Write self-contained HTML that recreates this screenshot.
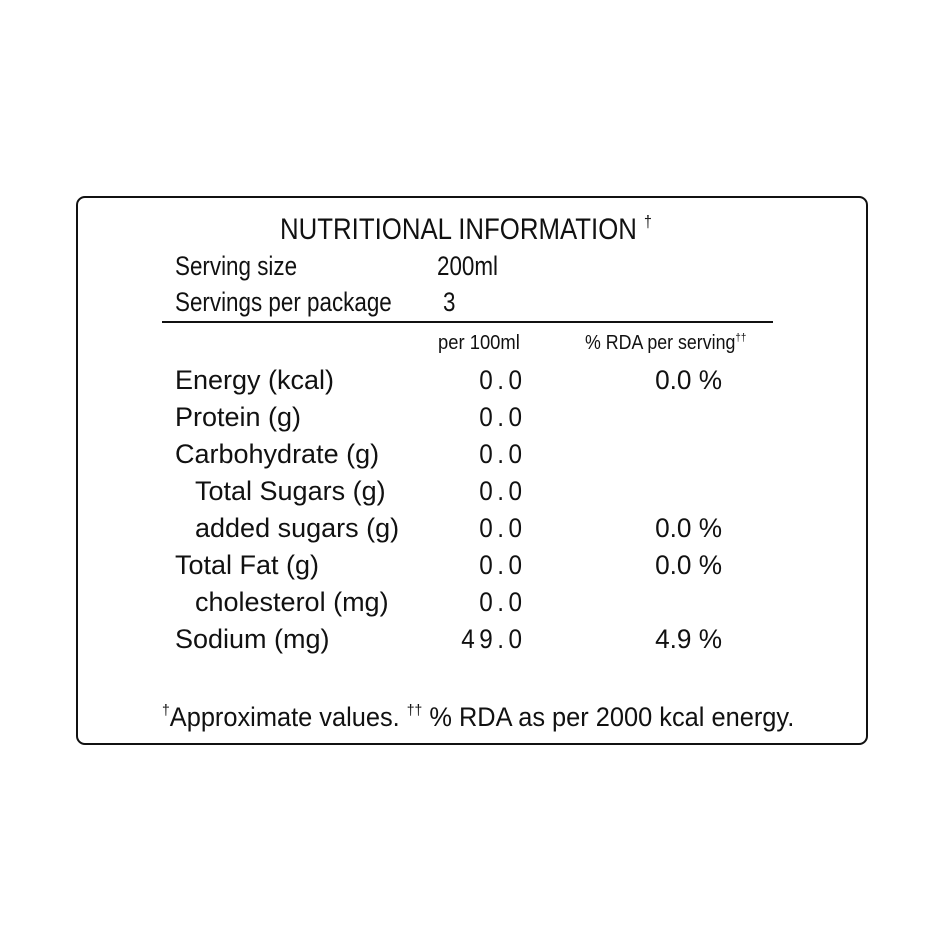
<!DOCTYPE html>
<html><head><meta charset="utf-8"><style>
body{margin:0;background:#fff;}
#c{position:relative;width:940px;height:940px;background:#fff;font-family:"Liberation Sans",sans-serif;color:#111;overflow:hidden}
.t{position:absolute;white-space:nowrap;line-height:1;transform-origin:left top}
.r{transform-origin:right top;text-align:right}
.box{position:absolute;left:76px;top:196px;width:788px;height:545px;border:2px solid #111;border-radius:9px}
.rule{position:absolute;left:162px;top:321px;width:611px;height:2px;background:#111}
sup{font-size:55%;vertical-align:0;position:relative;top:-0.75em}
</style></head><body><div id="c">
<div class="box"></div>
<div class="rule"></div>
<div class="t" style="left:280px;top:215px;font-size:30px;transform:scaleX(0.86)">NUTRITIONAL INFORMATION <sup>†</sup></div>
<div class="t" style="left:175px;top:253px;font-size:27px;transform:scaleX(0.83)">Serving size</div>
<div class="t" style="left:437px;top:253px;font-size:27px;transform:scaleX(0.83)">200ml</div>
<div class="t" style="left:175px;top:289px;font-size:27px;transform:scaleX(0.83)">Servings per package</div>
<div class="t" style="left:443px;top:289px;font-size:27px;transform:scaleX(0.83)">3</div>
<div class="t" style="left:438px;top:333px;font-size:20px;transform:scaleX(0.92)">per 100ml</div>
<div class="t" style="left:585px;top:333px;font-size:20px;transform:scaleX(0.89)">% RDA per serving<sup>††</sup></div>

<div class="t" style="left:175px;top:367px;font-size:27px;transform:scaleX(1)">Energy (kcal)</div>
<div class="t" style="left:175px;top:404px;font-size:27px;transform:scaleX(1)">Protein (g)</div>
<div class="t" style="left:175px;top:441px;font-size:27px;transform:scaleX(1)">Carbohydrate (g)</div>
<div class="t" style="left:195px;top:478px;font-size:27px;transform:scaleX(1)">Total Sugars (g)</div>
<div class="t" style="left:195px;top:515px;font-size:27px;transform:scaleX(1)">added sugars (g)</div>
<div class="t" style="left:175px;top:552px;font-size:27px;transform:scaleX(1)">Total Fat (g)</div>
<div class="t" style="left:195px;top:589px;font-size:27px;transform:scaleX(1)">cholesterol (mg)</div>
<div class="t" style="left:175px;top:626px;font-size:27px;transform:scaleX(1)">Sodium (mg)</div>

<div class="t r" style="right:413px;top:367px;font-size:27px;letter-spacing:5px;transform:scaleX(0.9)">0.0</div>
<div class="t r" style="right:413px;top:404px;font-size:27px;letter-spacing:5px;transform:scaleX(0.9)">0.0</div>
<div class="t r" style="right:413px;top:441px;font-size:27px;letter-spacing:5px;transform:scaleX(0.9)">0.0</div>
<div class="t r" style="right:413px;top:478px;font-size:27px;letter-spacing:5px;transform:scaleX(0.9)">0.0</div>
<div class="t r" style="right:413px;top:515px;font-size:27px;letter-spacing:5px;transform:scaleX(0.9)">0.0</div>
<div class="t r" style="right:413px;top:552px;font-size:27px;letter-spacing:5px;transform:scaleX(0.9)">0.0</div>
<div class="t r" style="right:413px;top:589px;font-size:27px;letter-spacing:5px;transform:scaleX(0.9)">0.0</div>
<div class="t r" style="right:413px;top:626px;font-size:27px;letter-spacing:5px;transform:scaleX(0.9)">49.0</div>

<div class="t r" style="right:218px;top:367px;font-size:27px;transform:scaleX(0.97)">0.0 %</div>
<div class="t r" style="right:218px;top:515px;font-size:27px;transform:scaleX(0.97)">0.0 %</div>
<div class="t r" style="right:218px;top:552px;font-size:27px;transform:scaleX(0.97)">0.0 %</div>
<div class="t r" style="right:218px;top:626px;font-size:27px;transform:scaleX(0.97)">4.9 %</div>

<div class="t" style="left:162px;top:704px;font-size:27px;transform:scaleX(0.94)"><sup>†</sup>Approximate values. <sup>††</sup> % RDA as per 2000 kcal energy.</div>
</div></body></html>
